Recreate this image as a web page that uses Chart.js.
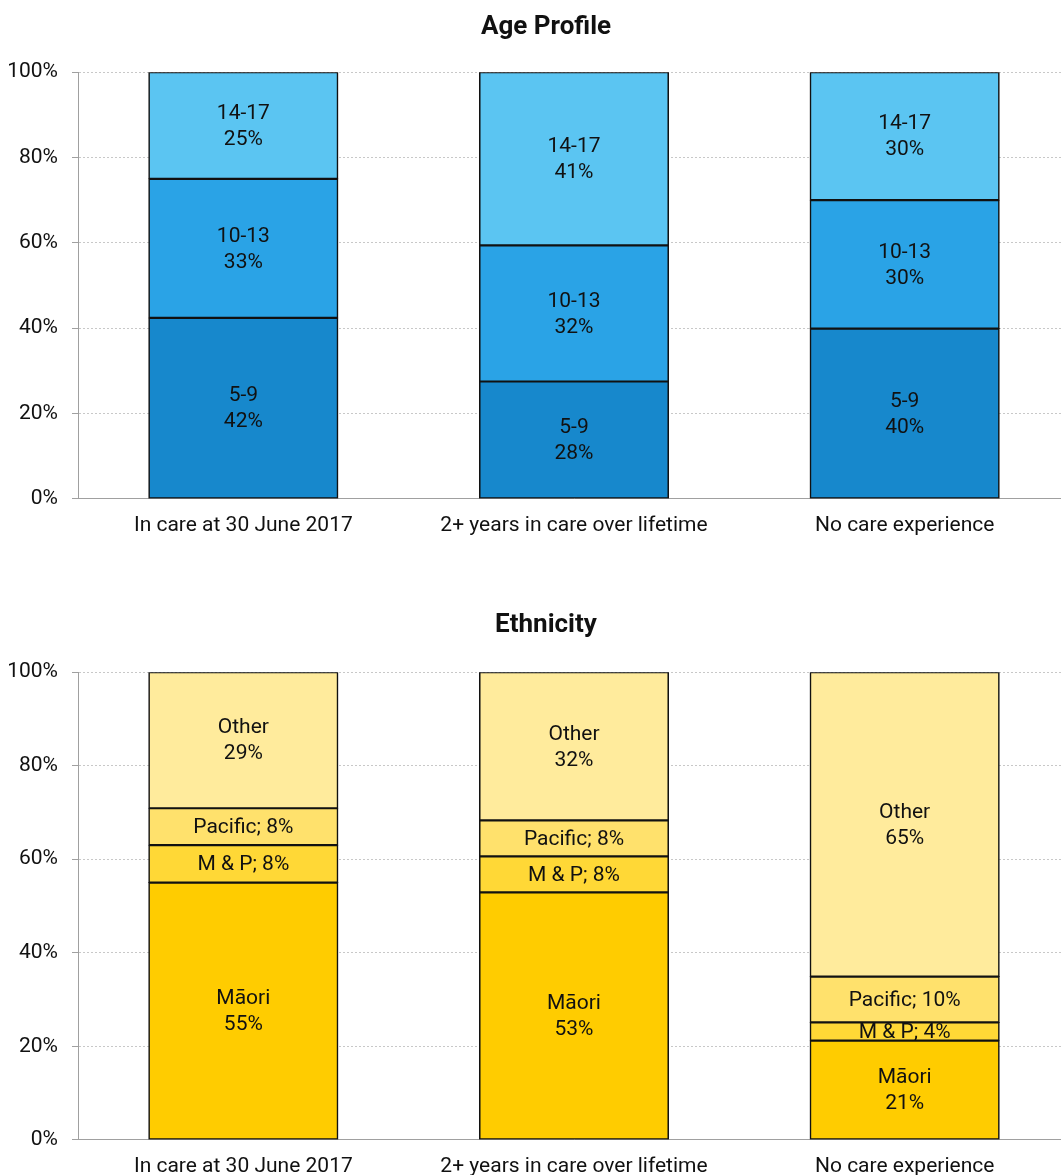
<!DOCTYPE html>
<html>
<head>
<meta charset="utf-8">
<script src="https://cdn.jsdelivr.net/npm/chart.js@4.4.1/dist/chart.umd.min.js"></script>
<style>
  html, body { margin: 0; padding: 0; background: #fff; overflow: hidden; }
  .box { position: absolute; left: 0; width: 1070px; }
  #ageBox { top: 0; height: 560px; }
  #ethBox { top: 598px; height: 595px; }
</style>
</head>
<body>
<div class="box" id="ageBox"><canvas id="ageChart"></canvas></div>
<div class="box" id="ethBox"><canvas id="ethChart"></canvas></div>
<script>
// groups along the x axis
const groups = ['In care at 30 June 2017', '2+ years in care over lifetime', 'No care experience'];

// age profile (% of each group)
const ageBands = ['5-9', '10-13', '14-17'];
const age5to9 = [42.4, 27.5, 39.9];
const age10to13 = [32.6, 31.9, 30.1];
const age14to17 = [25.0, 40.6, 30.0];
const ageColors = ['#1788cc', '#2aa3e6', '#5bc5f2'];

// ethnicity (% of each group)
const ethGroups = ['Māori', 'M & P', 'Pacific', 'Other'];
const ethMaori = [55.0, 52.9, 21.2];
const ethMP = [8.0, 7.7, 3.9];
const ethPacific = [7.9, 7.7, 9.8];
const ethOther = [29.1, 31.7, 65.1];
const ethColors = ['#ffcc00', '#ffd836', '#ffe16c', '#ffeb9c'];
// these ones get "name; n%" on one line
const oneLineLabels = ['M & P', 'Pacific'];

const FONT = 'Roboto, "Noto Sans", sans-serif';

// writes the band name and value in the middle of every bar segment
const segmentLabels = {
  id: 'segmentLabels',
  afterDatasetsDraw(chart) {
    const ctx = chart.ctx;
    ctx.save();
    ctx.font = '21px ' + FONT;
    ctx.fillStyle = '#111';
    ctx.textAlign = 'center';
    ctx.textBaseline = 'middle';
    chart.data.datasets.forEach((ds, i) => {
      const meta = chart.getDatasetMeta(i);
      meta.data.forEach((bar, j) => {
        const p = bar.getProps(['x', 'y', 'base'], true);
        const cy = (p.y + p.base) / 2;
        const pct = Math.round(ds.data[j]) + '%';
        if (oneLineLabels.includes(ds.label)) {
          ctx.fillText(ds.label + '; ' + pct, p.x, cy + 1);
        } else {
          ctx.fillText(ds.label, p.x, cy - 12);
          ctx.fillText(pct, p.x, cy + 14);
        }
      });
    });
    ctx.restore();
  }
};

// the title is centred over the tick labels + plot, not over the whole canvas
const titleShift = {
  id: 'titleShift',
  afterLayout(chart) {
    if (chart.titleBlock) chart.titleBlock.left = 22;
  }
};

function makeChart(id, title, names, series, colors, pad) {
  const datasets = names.map((name, i) => ({
    label: name,
    data: series[i],
    backgroundColor: colors[i],
    borderColor: '#111',
    borderWidth: 1.6,
    borderSkipped: false,
    inflateAmount: 0.5,
    barPercentage: 0.572,
    categoryPercentage: 1
  }));
  return new Chart(document.getElementById(id), {
    type: 'bar',
    data: { labels: groups, datasets },
    plugins: [segmentLabels, titleShift],
    options: {
      responsive: true,
      maintainAspectRatio: false,
      animation: false,
      layout: { padding: { left: 0, right: 0, top: 0, bottom: pad.bottom } },
      plugins: {
        legend: { display: false },
        tooltip: { enabled: false },
        title: {
          display: true,
          text: title,
          color: '#111',
          font: { family: FONT, size: 26, weight: 'bold' },
          padding: { top: pad.titleTop, bottom: pad.titleBottom }
        }
      },
      scales: {
        x: {
          stacked: true,
          grid: { display: false, drawTicks: false },
          border: { display: true, color: '#a0a0a0', width: 1 },
          ticks: { color: '#111', padding: 14, font: { family: FONT, size: 21 } }
        },
        y: {
          stacked: true,
          min: 0,
          max: 100,
          afterFit(scale) { scale.width = 78; },
          grid: { color: '#c8c8c8', tickColor: '#a0a0a0', tickLength: 6, tickBorderDash: [] },
          border: { display: true, color: '#a0a0a0', width: 1, dash: [2, 2] },
          ticks: {
            stepSize: 20,
            color: '#111',
            padding: 14,
            font: { family: FONT, size: 21 },
            callback: v => v + '%'
          }
        }
      }
    }
  });
}

makeChart('ageChart', 'Age Profile', ageBands,
  [age5to9, age10to13, age14to17], ageColors,
  { titleTop: 12, titleBottom: 29, bottom: 8 });

makeChart('ethChart', 'Ethnicity', ethGroups,
  [ethMaori, ethMP, ethPacific, ethOther], ethColors,
  { titleTop: 12, titleBottom: 31, bottom: 0 });
</script>
</body>
</html>
